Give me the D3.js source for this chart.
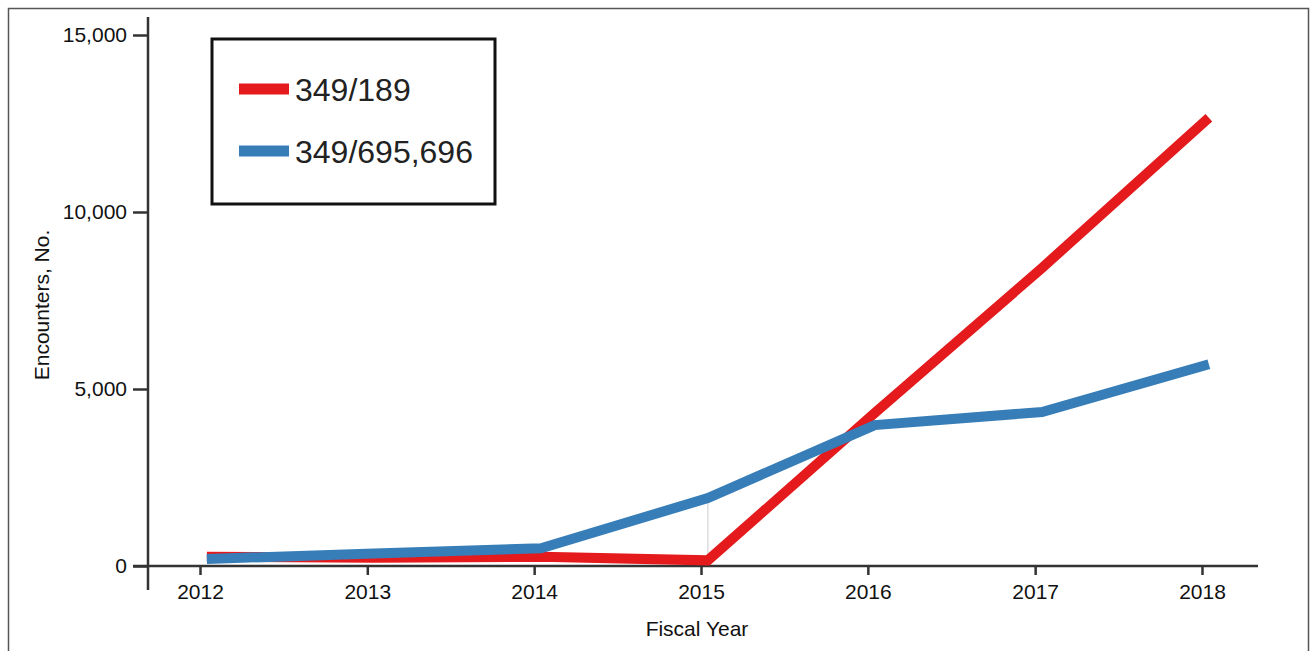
<!DOCTYPE html>
<html>
<head>
<meta charset="utf-8">
<script src="https://cdn.jsdelivr.net/npm/d3@7"></script>
<style>
  html, body { margin: 0; padding: 0; background: #fff; }
  svg { display: block; font-family: "Liberation Sans", Arial, Helvetica, sans-serif; }
</style>
</head>
<body>
<div id="chart"></div>
<script>
// Data
const tickYears = ["2012", "2013", "2014", "2015", "2016", "2017", "2018"];
const recordDates = ["2012-01-16", "2013-01-16", "2014-01-16", "2015-01-16", "2016-01-16", "2017-01-16", "2018-01-16"];
const seriesNames = ["349/189", "349/695,696"];
const values189 = [260, 230, 260, 160, 4320, 8420, 12660];
const values695 = [200, 350, 500, 1920, 3980, 4350, 5700];
const yTicks = [0, 5000, 10000, 15000];
const colors = ["#e41a1c", "#377eb8"];

const width = 1313;
const height = 651;
const parse = d3.timeParse("%Y-%m-%d");

const svg = d3.select("#chart").append("svg")
  .attr("width", width)
  .attr("height", height)
  .attr("viewBox", [0, 0, width, height]);

// outer frame
svg.append("rect")
  .attr("x", 8.5).attr("y", 8.5)
  .attr("width", 1300).attr("height", 700)
  .attr("fill", "none")
  .attr("stroke", "#555")
  .attr("stroke-width", 1.5);

const x = d3.scaleTime()
  .domain([new Date(2012, 0, 1), new Date(2018, 0, 1)])
  .range([200, 1202]);

const y = d3.scaleLinear()
  .domain([0, 15000])
  .range([566, 35]);

const series = seriesNames.map((name, i) => ({
  name: name,
  color: colors[i],
  points: recordDates.map((d, j) => ({date: parse(d), value: [values189, values695][i][j]}))
}));

// x axis
const xAxis = svg.append("g")
  .attr("transform", `translate(0,${y(0)})`)
  .call(d3.axisBottom(x)
    .tickValues(tickYears.map(t => new Date(+t, 0, 1)))
    .tickFormat(d3.timeFormat("%Y"))
    .tickSize(9)
    .tickSizeOuter(0)
    .tickPadding(9));
xAxis.select(".domain").attr("d", `M133,0H1258`);

// y axis
const yAxis = svg.append("g")
  .attr("transform", `translate(148,0)`)
  .call(d3.axisLeft(y)
    .tickValues(yTicks)
    .tickFormat(d3.format(","))
    .tickSize(15)
    .tickSizeOuter(0)
    .tickPadding(6));
yAxis.select(".domain").attr("d", `M0,17V590`);

svg.selectAll(".domain, .tick line")
  .attr("stroke", "#333")
  .attr("stroke-width", 2.5);
svg.selectAll(".tick text")
  .attr("fill", "#111")
  .style("font-size", "21px");

// axis titles
svg.append("text")
  .attr("x", 697).attr("y", 636)
  .attr("text-anchor", "middle")
  .style("font-size", "21px")
  .attr("fill", "#111")
  .text("Fiscal Year");

svg.append("text")
  .attr("transform", "translate(49,305) rotate(-90)")
  .attr("text-anchor", "middle")
  .style("font-size", "21px")
  .attr("fill", "#111")
  .text("Encounters, No.");

// light drop line at 2015 between the series
const dropIdx = recordDates.indexOf("2015-01-16");
svg.append("line")
  .attr("x1", x(parse(recordDates[dropIdx])))
  .attr("x2", x(parse(recordDates[dropIdx])))
  .attr("y1", y(values695[dropIdx]))
  .attr("y2", y(values189[dropIdx]))
  .attr("stroke", "#ddd")
  .attr("stroke-width", 1.5);

// lines
const line = d3.line()
  .x(d => x(d.date))
  .y(d => y(d.value));

svg.selectAll(".series")
  .data(series)
  .join("path")
    .attr("class", "series")
    .attr("fill", "none")
    .attr("stroke", d => d.color)
    .attr("stroke-width", 10)
    .attr("d", d => line(d.points));

// legend
const legend = svg.append("g");
legend.append("rect")
  .attr("x", 212).attr("y", 39)
  .attr("width", 283).attr("height", 165)
  .attr("fill", "#fff")
  .attr("stroke", "#111")
  .attr("stroke-width", 3);

const items = legend.selectAll(".item")
  .data(series)
  .join("g")
    .attr("transform", (d, i) => `translate(239,${89 + i * 62})`);
items.append("line")
  .attr("x1", 0).attr("x2", 50)
  .attr("stroke", d => d.color)
  .attr("stroke-width", 11);
items.append("text")
  .attr("x", 56).attr("y", 12)
  .style("font-size", "32px")
  .attr("fill", "#222")
  .text(d => d.name);
</script>
</body>
</html>
